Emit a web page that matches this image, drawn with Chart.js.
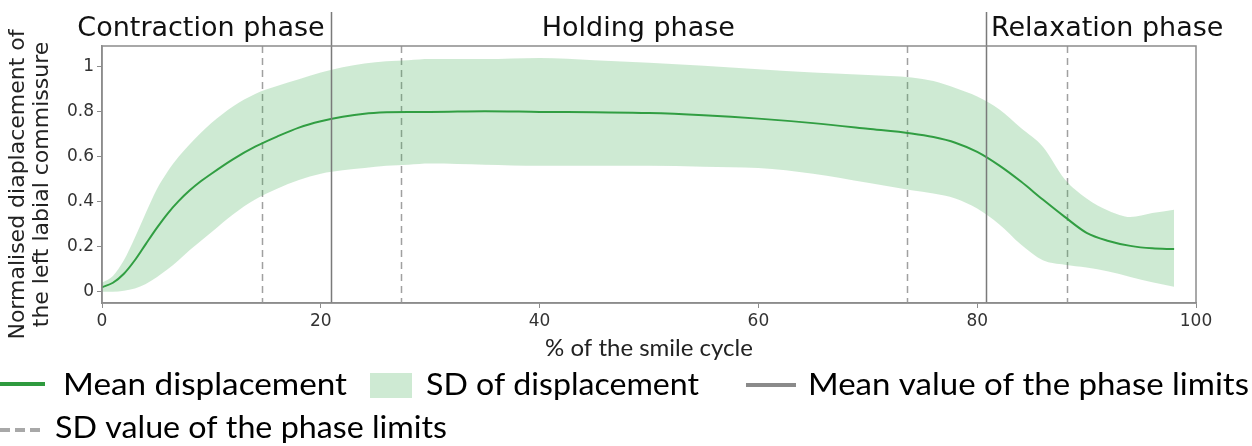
<!DOCTYPE html>
<html lang="en">
<head>
    <meta charset="UTF-8">
    <title>Displacement of the left labial commissure over the smile cycle</title>
    <script src="https://cdn.jsdelivr.net/npm/chart.js"></script>
    <style>
        html, body { margin: 0; padding: 0; background: #fff; }
        #wrap { position: relative; width: 1252px; height: 446px; }
    </style>
</head>
<body>
    <div id="wrap"><canvas id="smileChart"></canvas></div>

    <script>
        // % of the smile cycle
        const cyclePct = [0, 1, 2, 3, 4, 5, 6, 7, 8, 9, 10, 12, 14, 16, 18, 20, 22, 24, 26, 28, 30, 35, 40, 45, 50, 55, 60, 65, 70, 74, 76, 78, 80, 82, 84, 86, 88, 90, 92, 94, 96, 98];
        // mean normalised displacement
        const meanDisp = [0.02, 0.04, 0.08, 0.14, 0.212, 0.283, 0.348, 0.403, 0.45, 0.49, 0.525, 0.59, 0.645, 0.69, 0.73, 0.758, 0.778, 0.792, 0.798, 0.80, 0.80, 0.803, 0.80, 0.798, 0.795, 0.785, 0.77, 0.75, 0.725, 0.704, 0.688, 0.663, 0.622, 0.562, 0.49, 0.41, 0.333, 0.262, 0.226, 0.204, 0.193, 0.19];
        // mean + SD / mean - SD
        const upperSD = [0.04, 0.07, 0.14, 0.24, 0.35, 0.455, 0.535, 0.60, 0.655, 0.705, 0.75, 0.825, 0.88, 0.915, 0.945, 0.975, 0.998, 1.015, 1.025, 1.03, 1.035, 1.035, 1.04, 1.03, 1.018, 1.005, 0.99, 0.975, 0.964, 0.953, 0.937, 0.906, 0.868, 0.812, 0.728, 0.645, 0.50, 0.415, 0.36, 0.332, 0.35, 0.365];
        const lowerSD = [0.0, 0.0, 0.005, 0.015, 0.035, 0.065, 0.10, 0.14, 0.185, 0.225, 0.265, 0.345, 0.41, 0.458, 0.497, 0.525, 0.54, 0.55, 0.56, 0.565, 0.57, 0.565, 0.56, 0.56, 0.56, 0.556, 0.55, 0.525, 0.485, 0.452, 0.437, 0.415, 0.37, 0.30, 0.21, 0.14, 0.12, 0.108, 0.09, 0.066, 0.042, 0.022];

        // phase limits (% of cycle)
        const phaseMeans = [20.9, 80.8];
        const phaseSDs = [14.6, 27.3, 73.6, 88.2];
        const phaseNames = ['Contraction phase', 'Holding phase', 'Relaxation phase'];

        const xTicks = [0, 20, 40, 60, 80, 100];
        const yTicks = [0, 0.2, 0.4, 0.6, 0.8, 1];
        const yTitle = ['Normalised diaplacement of', 'the left labial commissure'];

        const GREEN = '#2e9a3e';
        const BAND = 'rgba(60, 170, 80, 0.25)';
        const GREY_SOLID = '#7a7a7a';
        const GREY_DASH = '#a0a0a0';

        const toPoints = arr => cyclePct.map((x, i) => ({ x: x, y: arr[i] }));

        // draw text squeezed/stretched to a given width
        function fitText(ctx, text, x, y, width) {
            const w = ctx.measureText(text).width;
            ctx.save();
            ctx.translate(x, y);
            ctx.scale(width / w, 1);
            ctx.fillText(text, 0, 0);
            ctx.restore();
        }

        // phase limit lines, frame, phase titles and y title
        const phasePlugin = {
            id: 'phases',
            beforeDatasetsDraw(chart) {
                const { ctx, chartArea: a, scales: { x } } = chart;
                ctx.save();
                ctx.strokeStyle = GREY_DASH;
                ctx.lineWidth = 1.5;
                ctx.setLineDash([7, 5]);
                phaseSDs.forEach(v => {
                    const px = Math.round(x.getPixelForValue(v)) + 0.5;
                    ctx.beginPath();
                    ctx.moveTo(px, a.top);
                    ctx.lineTo(px, a.bottom);
                    ctx.stroke();
                });
                ctx.restore();
            },
            afterDatasetsDraw(chart) {
                const { ctx, chartArea: a, scales: { x } } = chart;
                ctx.save();
                ctx.strokeStyle = GREY_SOLID;
                ctx.lineWidth = 1.5;
                phaseMeans.forEach(v => {
                    const px = Math.round(x.getPixelForValue(v)) + 0.5;
                    ctx.beginPath();
                    ctx.moveTo(px, 12);
                    ctx.lineTo(px, a.bottom);
                    ctx.stroke();
                });
                // frame
                ctx.strokeStyle = '#8c8c8c';
                ctx.lineWidth = 1.5;
                ctx.strokeRect(a.left, a.top, a.right - a.left, a.bottom - a.top);

                // phase titles
                ctx.fillStyle = '#111';
                ctx.font = '27px "DejaVu Sans", Verdana, sans-serif';
                ctx.textBaseline = 'alphabetic';
                const p1 = x.getPixelForValue(phaseMeans[0]);
                const p2 = x.getPixelForValue(phaseMeans[1]);
                ctx.textAlign = 'right';
                ctx.fillText(phaseNames[0], p1 - 6, 36);
                ctx.textAlign = 'center';
                ctx.fillText(phaseNames[1], (p1 + p2) / 2 - 20, 36);
                ctx.textAlign = 'left';
                ctx.fillText(phaseNames[2], p2 + 5, 36);

                // y axis title, two rotated lines
                ctx.fillStyle = '#222';
                ctx.font = '22px "DejaVu Sans", Verdana, sans-serif';
                ctx.textAlign = 'center';
                ctx.textBaseline = 'middle';
                yTitle.forEach((line, i) => {
                    ctx.save();
                    ctx.translate(18 + i * 24, (a.top + a.bottom) / 2 + 10);
                    ctx.rotate(-Math.PI / 2);
                    ctx.fillText(line, 0, 0);
                    ctx.restore();
                });
                ctx.restore();
            }
        };

        // custom legend under the axes
        const legendPlugin = {
            id: 'bottomLegend',
            afterDraw(chart) {
                const { ctx } = chart;
                ctx.save();
                ctx.font = '30px Lato, "Open Sans", sans-serif';
                ctx.fillStyle = '#000';
                ctx.textAlign = 'left';
                ctx.textBaseline = 'alphabetic';

                // row 1
                ctx.strokeStyle = GREEN;
                ctx.lineWidth = 4;
                ctx.beginPath(); ctx.moveTo(0, 384); ctx.lineTo(45, 384); ctx.stroke();
                fitText(ctx, 'Mean displacement', 63, 395, 284);

                ctx.fillStyle = BAND;
                ctx.fillRect(370, 373, 42, 25);
                ctx.fillStyle = '#000';
                fitText(ctx, 'SD of displacement', 426, 395, 273);

                ctx.strokeStyle = '#8a8a8a';
                ctx.lineWidth = 4;
                ctx.beginPath(); ctx.moveTo(746, 385); ctx.lineTo(796, 385); ctx.stroke();
                fitText(ctx, 'Mean value of the phase limits', 808, 395, 441);

                // row 2
                ctx.strokeStyle = '#a8a8a8';
                ctx.setLineDash([10, 5]);
                ctx.beginPath(); ctx.moveTo(0, 430); ctx.lineTo(42, 430); ctx.stroke();
                ctx.setLineDash([]);
                fitText(ctx, 'SD value of the phase limits', 55, 438, 392);
                ctx.restore();
            }
        };

        new Chart(document.getElementById('smileChart'), {
            type: 'line',
            data: {
                datasets: [
                    {
                        label: 'upper',
                        data: toPoints(upperSD),
                        borderWidth: 0,
                        pointRadius: 0,
                        backgroundColor: BAND,
                        fill: '+1',
                        cubicInterpolationMode: 'monotone'
                    },
                    {
                        label: 'lower',
                        data: toPoints(lowerSD),
                        borderWidth: 0,
                        pointRadius: 0,
                        fill: false,
                        cubicInterpolationMode: 'monotone'
                    },
                    {
                        label: 'Mean displacement',
                        data: toPoints(meanDisp),
                        borderColor: GREEN,
                        borderWidth: 2,
                        pointRadius: 0,
                        fill: false,
                        cubicInterpolationMode: 'monotone'
                    }
                ]
            },
            options: {
                responsive: true,
                maintainAspectRatio: false,
                animation: false,
                layout: { padding: { top: 46, right: 56, left: 0, bottom: 76 } },
                plugins: {
                    legend: { display: false },
                    tooltip: { enabled: false }
                },
                scales: {
                    x: {
                        type: 'linear',
                        min: 0,
                        max: 100,
                        afterFit: s => { s.height = 67; },
                        afterBuildTicks: s => { s.ticks = xTicks.map(v => ({ value: v })); },
                        grid: { drawOnChartArea: false, drawTicks: true, tickLength: 5, color: '#8c8c8c' },
                        border: { color: '#8c8c8c', width: 1.5 },
                        ticks: { color: '#333', padding: 3, maxRotation: 0, font: { family: '"DejaVu Sans", Verdana, sans-serif', size: 17 } },
                        title: {
                            display: true,
                            text: '% of the smile cycle',
                            color: '#222',
                            padding: { top: 0, bottom: 7 },
                            font: { family: 'Lato, "Open Sans", sans-serif', size: 24, lineHeight: 1.2 }
                        }
                    },
                    y: {
                        min: -0.05,
                        max: 1.093,
                        afterFit: s => { s.width = 102; },
                        afterBuildTicks: s => { s.ticks = yTicks.map(v => ({ value: v })); },
                        grid: { drawOnChartArea: false, drawTicks: true, tickLength: 5, color: '#8c8c8c' },
                        border: { color: '#8c8c8c', width: 1.5 },
                        ticks: {
                            color: '#333',
                            padding: 3,
                            font: { family: '"DejaVu Sans", Verdana, sans-serif', size: 17 },
                            callback: v => String(+v.toFixed(1))
                        },
                        title: { display: false }
                    }
                }
            },
            plugins: [phasePlugin, legendPlugin]
        });
    </script>
</body>
</html>
